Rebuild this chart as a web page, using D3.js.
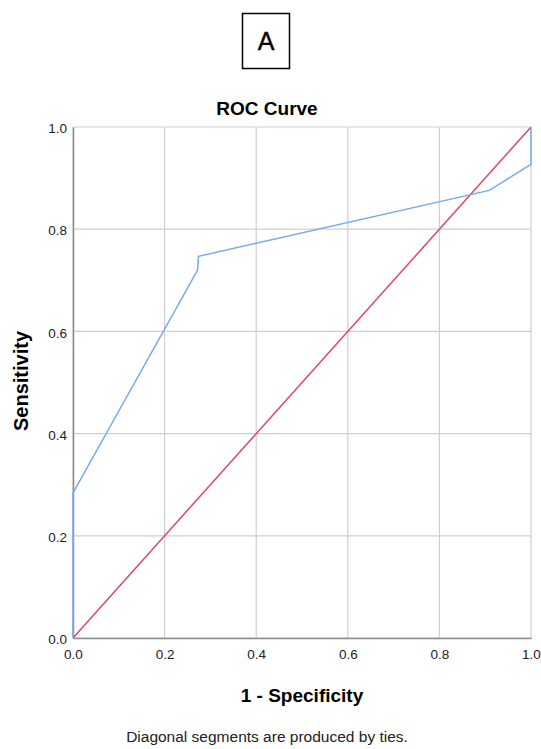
<!DOCTYPE html>
<html>
<head>
<meta charset="utf-8">
<script src="https://cdn.jsdelivr.net/npm/d3@7"></script>
<style>
  body { margin: 0; background: #fff; }
  svg { display: block; font-family: "Liberation Sans", Arial, sans-serif; }
</style>
</head>
<body>
<svg id="chart" width="541" height="749"></svg>
<script>
// ROC curve points (1 - specificity, sensitivity)
const rocFpr = [0, 0, 0.272, 0.274, 0.909, 1, 1];
const rocTpr = [0, 0.284, 0.72, 0.747, 0.876, 0.927, 1];
// Reference (chance) line
const refFpr = [0, 1];
const refTpr = [0, 1];
const tickValues = [0, 0.2, 0.4, 0.6, 0.8, 1.0];

const svg = d3.select("#chart");
const plotLeft = 73, plotRight = 531, plotTop = 127, plotBottom = 638;

const x = d3.scaleLinear().domain([0, 1]).range([plotLeft, plotRight]);
const y = d3.scaleLinear().domain([0, 1]).range([plotBottom, plotTop]);

// Panel label box
svg.append("rect").attr("x", 242.5).attr("y", 13.5).attr("width", 47).attr("height", 55)
  .attr("fill", "none").attr("stroke", "#000").attr("stroke-width", 1.5);
svg.append("text").attr("x", 266).attr("y", 49.5).attr("text-anchor", "middle")
  .attr("font-size", 25).attr("fill", "#000").attr("stroke", "#000").attr("stroke-width", 0.4)
  .text("A");

// Title
svg.append("text").attr("x", 267).attr("y", 115).attr("text-anchor", "middle")
  .attr("font-size", 19).attr("font-weight", "bold").attr("fill", "#000").text("ROC Curve");

// Gridlines
const grid = svg.append("g");
grid.selectAll(".gx").data(tickValues).join("line")
  .attr("x1", d => x(d)).attr("x2", d => x(d)).attr("y1", plotTop).attr("y2", plotBottom)
  .attr("stroke", "#cfcfcf").attr("stroke-width", 1.2);
grid.selectAll(".gy").data(tickValues).join("line")
  .attr("y1", d => y(d)).attr("y2", d => y(d)).attr("x1", plotLeft).attr("x2", plotRight)
  .attr("stroke", "#cfcfcf").attr("stroke-width", 1.2);

// Axes
const fmt = d3.format(".1f");
const xAxis = svg.append("g").attr("transform", `translate(0,${plotBottom})`)
  .call(d3.axisBottom(x).tickValues(tickValues).tickFormat(fmt).tickSize(0).tickPadding(11));
const yAxis = svg.append("g").attr("transform", `translate(${plotLeft},0)`)
  .call(d3.axisLeft(y).tickValues(tickValues).tickFormat(fmt).tickSize(0).tickPadding(6));
[xAxis, yAxis].forEach(a => {
  a.select(".domain").attr("stroke", "#8c8c8c").attr("stroke-width", 1.5);
  a.selectAll("text").attr("font-size", 13.5).attr("fill", "#222")
    .attr("font-family", "\"Liberation Sans\", Arial, sans-serif");
});
yAxis.selectAll("text").attr("dy", "0.42em");

// Lines
const line = d3.line().x(d => x(d[0])).y(d => y(d[1]));
svg.append("path").datum(refFpr.map((v, i) => [v, refTpr[i]]))
  .attr("d", line).attr("fill", "none").attr("stroke", "#e2446c").attr("stroke-width", 1.5);
svg.append("path").datum(rocFpr.map((v, i) => [v, rocTpr[i]]))
  .attr("d", line).attr("fill", "none").attr("stroke", "#74aaf0").attr("stroke-width", 1.5);

// Axis titles
svg.append("text").attr("x", 302).attr("y", 702).attr("text-anchor", "middle")
  .attr("font-size", 19).attr("font-weight", "bold").attr("fill", "#000").text("1 - Specificity");
svg.append("text").attr("transform", `translate(28,381) rotate(-90)`).attr("text-anchor", "middle")
  .attr("font-size", 20).attr("font-weight", "bold").attr("fill", "#000").text("Sensitivity");

// Footnote
svg.append("text").attr("x", 267).attr("y", 742).attr("text-anchor", "middle")
  .attr("font-size", 15.5).attr("fill", "#222").text("Diagonal segments are produced by ties.");
</script>
</body>
</html>
